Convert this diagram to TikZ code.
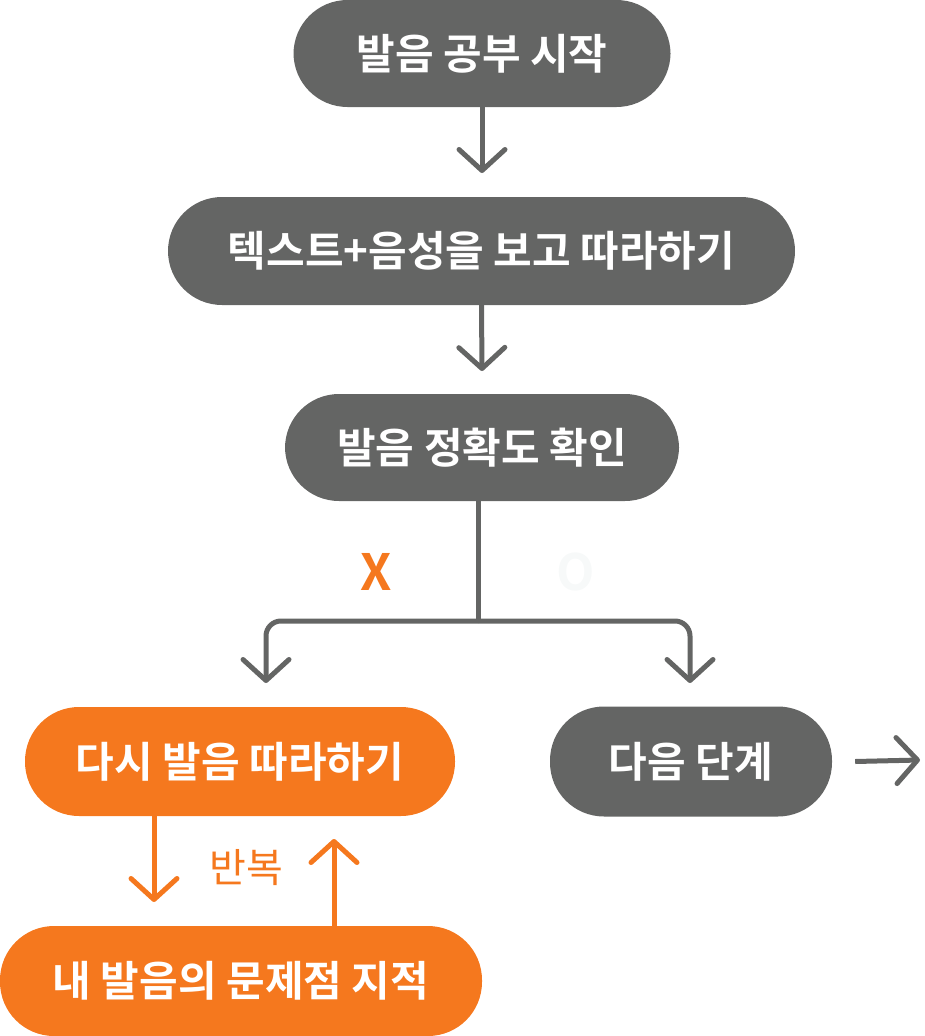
\documentclass[tikz,border=0pt]{standalone}
\usepackage{fontspec}
\setmainfont{Noto Sans CJK KR}
\newfontfamily\krbold{Noto Sans CJK KR Bold}
\usetikzlibrary{arrows.meta}
\definecolor{flowgray}{RGB}{100,101,100}
\definecolor{floworange}{RGB}{245,120,30}
\definecolor{faintwhite}{RGB}{247,249,249}
\tikzset{
  x=1pt, y=-1pt,
  pill/.style={rectangle, rounded corners=54pt, inner sep=0pt, text=white,
     font=\krbold\fontsize{42}{46}\selectfont},
  graypill/.style={pill, fill=flowgray},
  orangepill/.style={pill, fill=floworange},
  tiphead/.style={-{Straight Barb[length=21pt,width=46pt,round]}},
  garrow/.style={draw=flowgray, line width=5pt, tiphead},
  gline/.style={draw=flowgray, line width=5pt},
  oarrow/.style={draw=floworange, line width=5pt, tiphead},
}
\begin{document}
\begin{tikzpicture}
\useasboundingbox (0,0) rectangle (925,1036);
\node[graypill, minimum width=377pt, minimum height=107pt] (n1) at (482,53.5) {발음 공부 시작};
\node[graypill, minimum width=627pt, minimum height=108pt] (n2) at (481.5,251) {텍스트+음성을 보고 따라하기};
\node[graypill, minimum width=394pt, minimum height=107pt] (n3) at (482,447.5) {발음 정확도 확인};
\node[orangepill, minimum width=430pt, minimum height=109pt] (n4) at (240,761.5) {다시 발음 따라하기};
\node[graypill, minimum width=282pt, minimum height=110pt] (n5) at (691,761.5) {다음 단계};
\node[orangepill, minimum width=482pt, minimum height=110pt] (n6) at (241,981) {내 발음의 문제점 지적};

\node[text=floworange, font=\krbold\fontsize{50}{50}\selectfont] (xl) at (376,572) {X};
\node[text=faintwhite, font=\krbold\fontsize{50}{50}\selectfont] (ol) at (576,572) {O};
\node[text=floworange, font=\fontsize{40}{44}\selectfont] (rep) at (246,868) {반복};

\coordinate (a1) at (482,173);
\coordinate (a2) at (482,371);
\coordinate (jn) at (478,621);
\coordinate (la) at (266,683);
\coordinate (ra) at (690,683);
\coordinate (d1) at (154,902);
\coordinate (u1) at (334,839);
\coordinate (r2) at (920,760);

\draw[garrow] (n1.south) -- (a1);
\draw[garrow] (n2.south) -- (a2);
\draw[gline] (jn |- n3.south) -- (jn);
\draw[garrow, rounded corners=15pt] (jn) -| (la);
\draw[garrow, rounded corners=15pt] (jn) -| (ra);
\draw[oarrow] (d1 |- n4.south) -- (d1);
\draw[oarrow] (u1 |- n6.north) -- (u1);
\draw[garrow] ([xshift=23pt]n5.east) -- (r2);
\end{tikzpicture}
\end{document}
